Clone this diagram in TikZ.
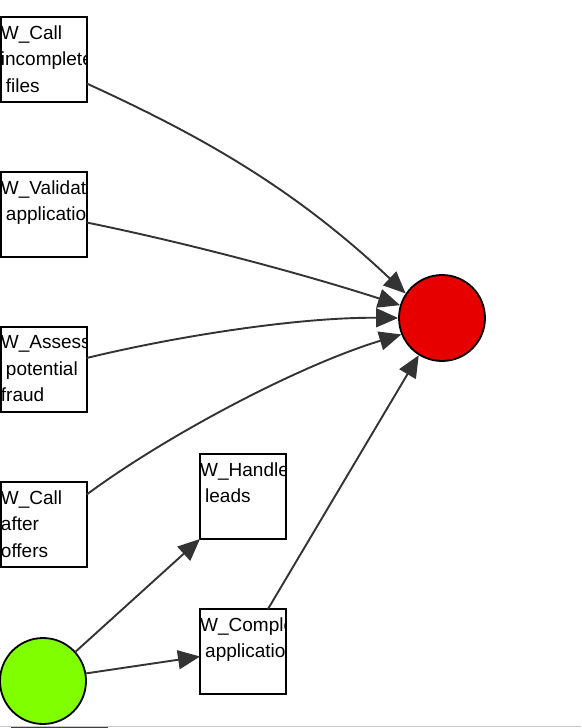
\documentclass[tikz,border=0pt]{standalone}
\usepackage{fontspec}
\setmainfont{Liberation Sans}
\usetikzlibrary{arrows.meta}
\definecolor{edgegray}{HTML}{333333}
\definecolor{stopred}{HTML}{E60000}
\definecolor{startgreen}{HTML}{80FF00}
\tikzset{
  task/.style={draw=black, line width=1.5pt, fill=white, minimum width=86pt,
    minimum height=85pt, inner sep=0pt, outer sep=0pt, anchor=north west},
  tasklabel/.style={anchor=north west, inner sep=0pt, align=left,
    font=\fontsize{19}{26.5}\selectfont},
  event/.style={circle, draw=black, line width=1.8pt, minimum size=86pt, inner sep=0pt},
  flow/.style={draw=edgegray, line width=1.9pt, -{Triangle[length=22pt,width=19pt]}},
}
% label of a task, cut off at the box border
\newcommand{\tasktext}[2]{%
  \begin{scope}
    \clip (#1.north west) rectangle (#1.south east);
    \node[tasklabel] (#1-text) at ([yshift=-8.3pt]#1.north west) {#2};
  \end{scope}}
\begin{document}
\begin{tikzpicture}[x=1pt,y=-1pt]
\useasboundingbox (0,0) rectangle (581,728);

% tasks
\node[task] (callfiles) at (0.75,17) {};
\node[task] (validate) at (0.75,172) {};
\node[task] (assess) at (0.75,327) {};
\node[task] (callafter) at (0.75,482) {};
\node[task] (handle) at (200,454) {};
\node[task] (complete) at (200,609) {};
\tasktext{callfiles}{W\_Call\\incomplete\\\hspace*{5pt}files}
\tasktext{validate}{W\_Validate\\\hspace*{5pt}application}
\tasktext{assess}{W\_Assess\\\hspace*{5pt}potential\\fraud}
\tasktext{callafter}{W\_Call\\after\\offers}
\tasktext{handle}{W\_Handle\\\hspace*{5pt}leads}
\tasktext{complete}{W\_Complete\\\hspace*{5pt}application}

% events
\node[event, fill=stopred] (endevent) at (442,318) {};
\node[event, fill=startgreen] (startevent) at (43,681) {};

% flows
\draw[flow] ([yshift=-24pt]callfiles.east) .. controls (197,134) and (292,186) .. (endevent.146);
\draw[flow] ([yshift=-8pt]validate.east) .. controls (187,243) and (300,273) .. (endevent.163);
\draw[flow] ([yshift=11.5pt]assess.east) .. controls (177,336) and (300,317) .. (endevent.180);
\draw[flow] ([yshift=30pt]callafter.east) .. controls (167,435) and (300,365) .. (endevent.202);
\draw[flow] ([xshift=25pt]complete.north) -- (endevent.238);
\draw[flow] (startevent.42) -- (handle.south west);
\draw[flow] (startevent.10) -- ([yshift=-5pt]complete.west);

% scroll bar at the bottom edge
\draw[gray!45, line width=1pt] (0,726.5) -- (581,726.5);
\draw[darkgray, line width=1.5pt] (11,727.3) -- (108,727.3);

\end{tikzpicture}
\end{document}
